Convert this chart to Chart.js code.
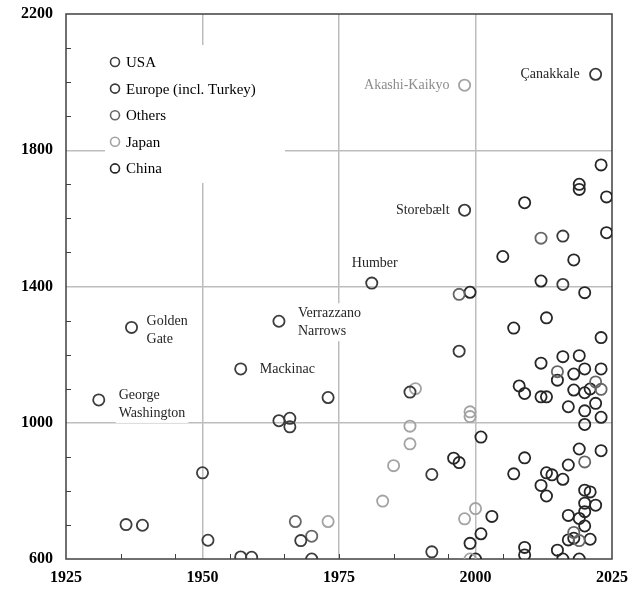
<!DOCTYPE html>
<html>
<head>
<meta charset="utf-8">
<script src="https://cdn.jsdelivr.net/npm/chart.js@4.4.0/dist/chart.umd.min.js"></script>
<style>
  html, body { margin: 0; padding: 0; background: #fff; }
</style>
</head>
<body>
<canvas id="myChart" width="643" height="590"></canvas>
<script>
// main span (m) against year opened
const xTicks = [1925, 1950, 1975, 2000, 2025];
const yTicks = [600, 1000, 1400, 1800, 2200];

const seriesNames = ['USA', 'Europe (incl. Turkey)', 'Others', 'Japan', 'China'];

const usaPoints = [
  [1931, 1067], [1937, 1280], [1957, 1158], [1964, 1298], [1950, 853],
  [1936, 701], [1939, 699], [1951, 655], [1957, 606]
];
const europePoints = [
  [1959, 605], [1964, 1006], [1966, 1013], [1966, 988], [1973, 1074],
  [1970, 600], [1968, 654], [1981, 1410], [1988, 1090], [1997, 1210],
  [1998, 1624], [2022, 2023], [1992, 848], [1992, 621], [2016, 1548], [2016, 1406]
];
const othersPoints = [
  [1967, 710], [1970, 667], [1997, 1377], [2012, 1542], [2015, 1150],
  [2023, 1098], [2020, 885], [2018, 678], [2019, 654], [2022, 1120]
];
const japanPoints = [
  [1973, 710], [1983, 770], [1985, 874], [1988, 938], [1988, 990],
  [1989, 1100], [1998, 1991], [1998, 718], [2000, 748], [1999, 1032],
  [1999, 1018], [1999, 600]
];
const chinaPoints = [
  [1996, 896], [1997, 883], [1999, 1383], [1999, 646], [2000, 600],
  [2001, 674], [2001, 958], [2003, 725], [2005, 1488], [2007, 1278],
  [2007, 850], [2008, 1108], [2009, 1646], [2009, 1086], [2009, 897],
  [2009, 634], [2009, 612], [2012, 1416], [2012, 1175], [2012, 1076],
  [2013, 1076], [2013, 1308], [2012, 816], [2013, 853], [2014, 847],
  [2013, 785], [2015, 626], [2015, 1125], [2016, 1194], [2016, 834],
  [2016, 600], [2017, 1047], [2017, 876], [2017, 728], [2017, 656],
  [2018, 1478], [2018, 1143], [2018, 1096], [2018, 661], [2019, 1700],
  [2019, 1685], [2019, 1197], [2019, 923], [2019, 719], [2019, 600],
  [2020, 1382], [2020, 1158], [2020, 1088], [2020, 1035], [2020, 995],
  [2020, 802], [2020, 764], [2020, 739], [2020, 697], [2021, 797],
  [2021, 1099], [2021, 658], [2022, 758], [2022, 1057], [2023, 1757],
  [2023, 1250], [2023, 1158], [2023, 1016], [2023, 918], [2024, 1663],
  [2024, 1558]
];

// named bridges
const bridgeNames = [['George', 'Washington'], ['Golden', 'Gate'], ['Verrazzano', 'Narrows'],
  ['Mackinac'], ['Humber'], ['Storebælt'], ['Akashi-Kaikyo'], ['Çanakkale']];
const bridgeYears = [1931, 1937, 1964, 1957, 1981, 1998, 1998, 2022];
const bridgeSpans = [1067, 1280, 1298, 1158, 1410, 1624, 1991, 2023];

const colors = ['#3d3d3d', '#3a3a3a', '#666666', '#a3a3a3', '#262626'];
const allPoints = [usaPoints, europePoints, othersPoints, japanPoints, chinaPoints];

const serif = '"Liberation Serif", "Times New Roman", serif';

// label placement: [dx, dy of first line, align]
const labelPlace = [
  [20, -5, 'left'], [15, -6, 'left'], [19, -8, 'left'], [19, 0, 'left'],
  [3, -20, 'center'], [-15, 0, 'right'], [-15, 0, 'right'], [-16, 0, 'right']
];

const extras = {
  id: 'extras',
  beforeDatasetsDraw(chart) {
    const { ctx, chartArea: a, scales: { x, y } } = chart;
    ctx.save();

    // minor ticks (inward)
    ctx.strokeStyle = '#404040';
    ctx.lineWidth = 1;
    ctx.beginPath();
    for (let v = 700; v < 2200; v += 100) {
      if (v % 400 === 200) continue;
      const py = Math.round(y.getPixelForValue(v)) + 0.5;
      ctx.moveTo(a.left, py); ctx.lineTo(a.left + 5, py);
    }
    for (let v = 1935; v < 2025; v += 10) {
      const px = Math.round(x.getPixelForValue(v)) + 0.5;
      ctx.moveTo(px, a.bottom); ctx.lineTo(px, a.bottom - 5);
    }
    ctx.stroke();

    // plot frame
    ctx.strokeStyle = '#404040';
    ctx.lineWidth = 1.5;
    ctx.strokeRect(a.left, a.top, a.right - a.left, a.bottom - a.top);

    // legend
    const lx = a.left + 39, ly = a.top + 31;
    ctx.fillStyle = '#ffffff';
    ctx.fillRect(lx, ly, 180, 138);
    ctx.font = '15px ' + serif;
    ctx.textBaseline = 'middle';
    ctx.textAlign = 'left';
    seriesNames.forEach((name, i) => {
      const cy = ly + 17 + i * 26.6;
      ctx.beginPath();
      ctx.arc(lx + 10, cy, 4.5, 0, Math.PI * 2);
      ctx.strokeStyle = colors[i];
      ctx.lineWidth = 1.6;
      ctx.stroke();
      ctx.fillStyle = '#000';
      ctx.fillText(name, lx + 21, cy + 1);
    });

    // bridge labels
    ctx.font = '14px ' + serif;
    bridgeNames.forEach((lines, i) => {
      const px = x.getPixelForValue(bridgeYears[i]);
      const py = y.getPixelForValue(bridgeSpans[i]);
      const [dx, dy, align] = labelPlace[i];
      const w = Math.max(...lines.map(t => ctx.measureText(t).width));
      const h = lines.length * 18;
      let bx = px + dx;
      if (align === 'right') bx -= w;
      if (align === 'center') bx -= w / 2;
      ctx.fillStyle = '#ffffff';
      ctx.fillRect(bx - 3, py + dy - 10, w + 6, h + 2);
      ctx.fillStyle = i === 6 ? '#8c8c8c' : '#262626';
      ctx.textAlign = align;
      lines.forEach((t, k) => ctx.fillText(t, px + dx, py + dy + k * 18));
    });
    ctx.restore();
  }
};

const gridColor = (keep) => (c) => keep.includes(c.tick && c.tick.value) ? '#bdbdbd' : 'rgba(0,0,0,0)';
const plain = v => String(v);

new Chart(document.getElementById('myChart'), {
  type: 'scatter',
  data: {
    datasets: allPoints.map((pts, i) => ({
      label: seriesNames[i],
      data: pts.map(p => ({ x: p[0], y: p[1] })),
      borderColor: colors[i],
      backgroundColor: 'rgba(0,0,0,0)',
      borderWidth: 1.8,
      pointRadius: 5.6,
      pointHoverRadius: 5.6
    }))
  },
  options: {
    responsive: false,
    animation: false,
    layout: { padding: { top: 14, right: 31, left: 0, bottom: 0 } },
    plugins: { legend: { display: false }, tooltip: { enabled: false } },
    scales: {
      x: {
        type: 'linear',
        min: 1925, max: 2025,
        afterBuildTicks: s => { s.ticks = xTicks.map(v => ({ value: v })); },
        afterFit: s => { s.height = 31; },
        ticks: { color: '#000', font: { family: serif, size: 16, weight: 'bold' }, padding: 9, maxRotation: 0, autoSkip: false, callback: plain },
        grid: { color: gridColor([1950, 1975, 2000]), lineWidth: 1.5, drawTicks: false },
        border: { display: false }
      },
      y: {
        min: 600, max: 2200,
        afterBuildTicks: s => { s.ticks = yTicks.map(v => ({ value: v })); },
        afterFit: s => { s.width = 66; s.paddingTop = 0; s.paddingBottom = 0; },
        ticks: { color: '#000', font: { family: serif, size: 16, weight: 'bold' }, padding: 13, callback: plain },
        grid: { color: gridColor([1000, 1400, 1800]), lineWidth: 1.5, drawTicks: false },
        border: { display: false }
      }
    }
  },
  plugins: [extras]
});
</script>
</body>
</html>
